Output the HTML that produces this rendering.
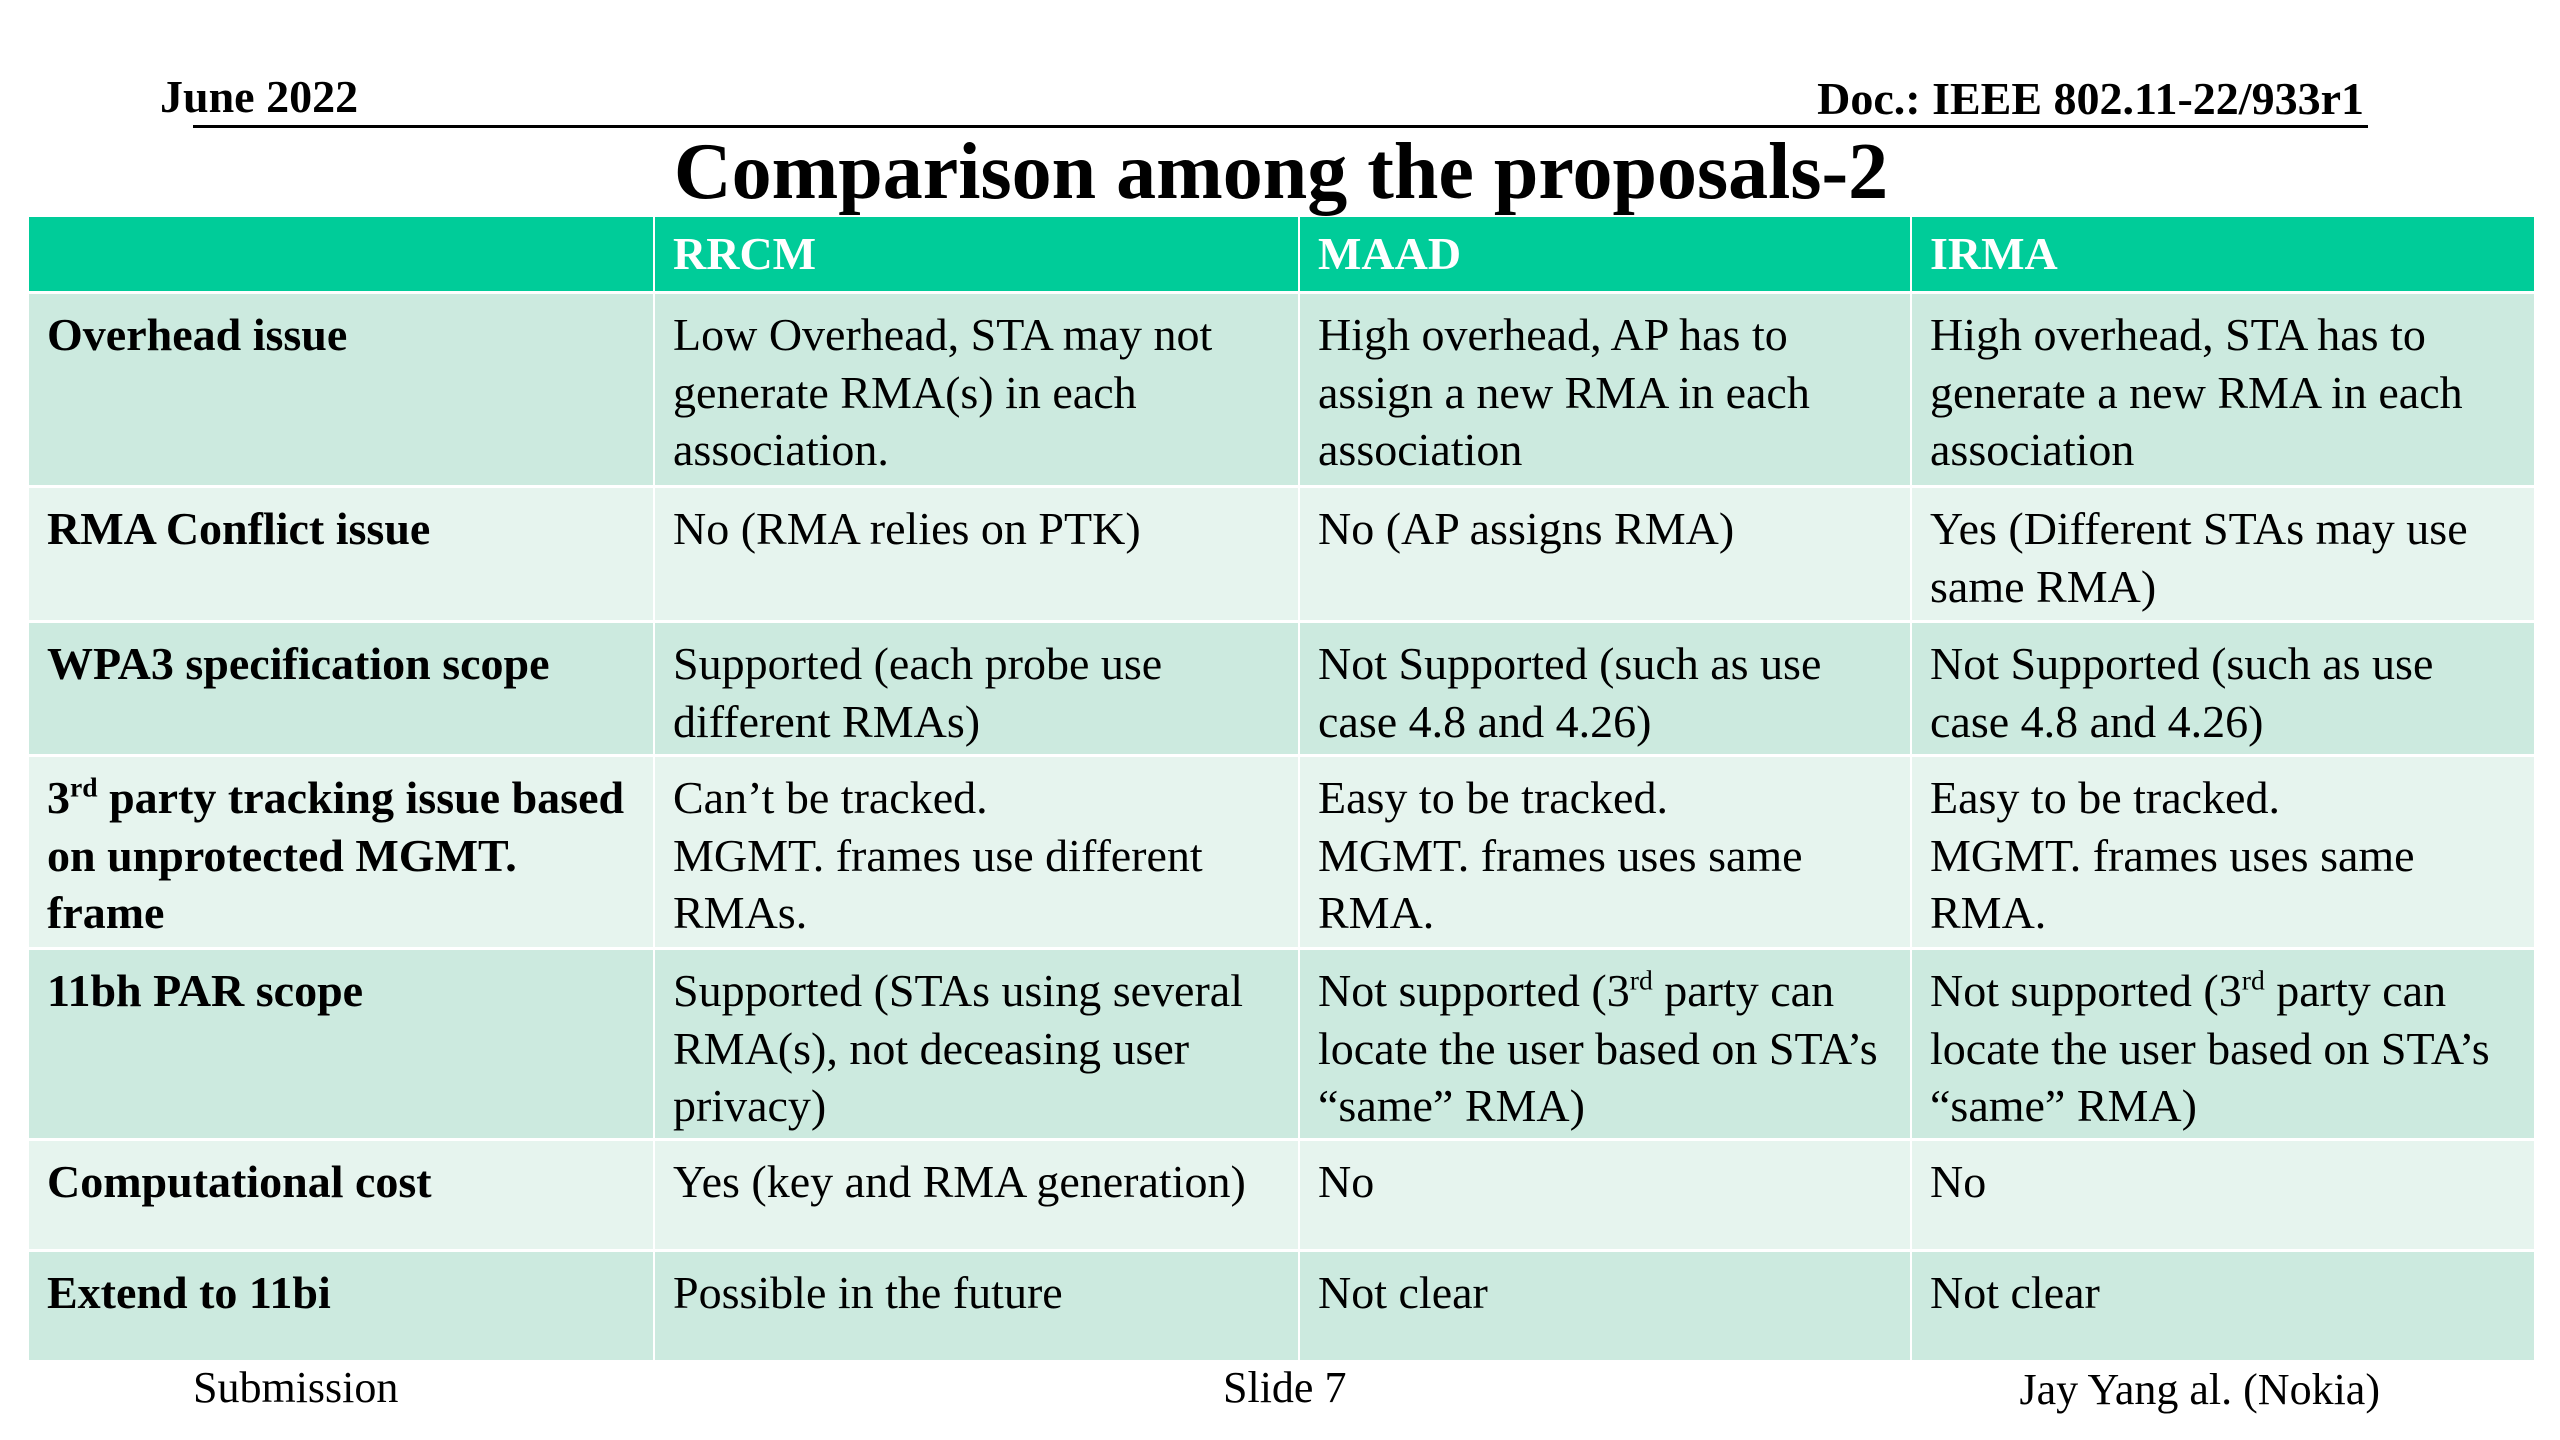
<!DOCTYPE html>
<html><head><meta charset="utf-8"><style>
body{margin:0;width:2560px;height:1440px;background:#fff;position:relative;overflow:hidden;font-family:"Liberation Serif",serif;color:#000}
.a{position:absolute}
.cell{position:absolute;box-sizing:border-box;padding:12px 18px;font-size:46px;line-height:57.5px}
.h{background:#00CC99;color:#fff;font-weight:bold;padding-top:8px}
.o{background:#CCEADF}
.e{background:#E6F4EE}
.b{font-weight:bold}
sup{font-size:60%;line-height:0;vertical-align:super}
</style></head><body>
<div class="a" style="left:160px;top:70px;font-size:46px;font-weight:bold">June 2022</div>
<div class="a" style="right:196px;top:72px;font-size:46px;font-weight:bold">Doc.: IEEE 802.11-22/933r1</div>
<div class="a" style="left:193px;top:125px;width:2175px;height:3px;background:#000"></div>
<div class="a" style="left:0;width:2562px;top:122px;text-align:center;font-size:80px;font-weight:bold;line-height:100px">Comparison among the proposals-2</div>
<div id="t"></div>
<div class="a" style="left:193px;top:1362px;font-size:44px">Submission</div>
<div class="a" style="left:1223px;top:1362px;font-size:44px">Slide 7</div>
<div class="a" style="right:180px;top:1364px;font-size:44px">Jay Yang al. (Nokia)</div>
<script>
const cols=[29,653,1298,1910,2534];
const rows=[217,291,485,620,754,947,1138,1249,1360];
const data=[
["","RRCM","MAAD","IRMA"],
["Overhead issue","Low Overhead, STA may not generate RMA(s) in each association.","High overhead, AP has to assign a new RMA in each association","High overhead, STA has to generate a new RMA in each association"],
["RMA Conflict issue","No (RMA relies on PTK)","No (AP assigns RMA)","Yes (Different STAs may use same RMA)"],
["WPA3 specification scope","Supported (each probe use different RMAs)","Not Supported (such as use case 4.8 and 4.26)","Not Supported (such as use case 4.8 and 4.26)"],
["3<sup>rd</sup> party tracking issue based on unprotected MGMT. frame","Can’t be tracked.<br>MGMT. frames use different RMAs.","Easy to be tracked.<br>MGMT. frames uses same RMA.","Easy to be tracked.<br>MGMT. frames uses same RMA."],
["11bh PAR scope","Supported (STAs using several RMA(s), not deceasing user privacy)","Not supported (3<sup>rd</sup> party can locate the user based on STA’s “same” RMA)","Not supported (3<sup>rd</sup> party can locate the user based on STA’s “same” RMA)"],
["Computational cost","Yes (key and RMA generation)","No","No"],
["Extend to 11bi","Possible in the future","Not clear","Not clear"]];
const t=document.getElementById('t');
data.forEach((r,i)=>r.forEach((txt,j)=>{
const d=document.createElement('div');


d.className='cell '+(i==0?'h':(i%2?'o':'e'))+(j==0?' b':'');
d.style.left=(cols[j]+(j?2:0))+'px';
d.style.top=(rows[i]+(i?3:0))+'px';
d.style.width=(cols[j+1]-cols[j]-(j?2:0))+'px';
d.style.height=(rows[i+1]-rows[i]-(i?3:0))+'px';
d.innerHTML=txt;
t.appendChild(d);
}));
</script>
</body></html>
